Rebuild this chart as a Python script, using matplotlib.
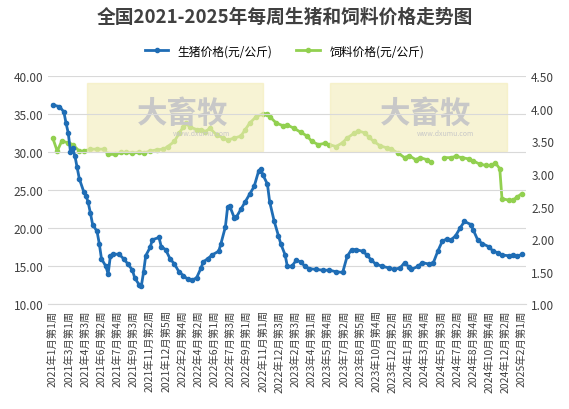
import numpy as np
import matplotlib.pyplot as plt
from matplotlib.patches import Rectangle

plt.rcParams["font.family"] = ["Noto Sans CJK SC", "DejaVu Sans"]

TICK_LABELS = [
    "2021年1月第1周", "2021年3月第1周", "2021年4月第3周", "2021年6月第2周", "2021年7月第4周",
    "2021年9月第3周", "2021年11月第2周", "2021年12月第5周", "2022年2月第4周", "2022年4月第2周",
    "2022年6月第1周", "2022年7月第3周", "2022年9月第1周", "2022年11月第1周", "2022年12月第3周",
    "2023年2月第3周", "2023年4月第1周", "2023年5月第4周", "2023年7月第2周", "2023年8月第5周",
    "2023年10月第4周", "2023年12月第2周", "2024年1月第5周", "2024年3月第4周", "2024年5月第3周",
    "2024年7月第2周", "2024年8月第4周", "2024年10月第4周", "2024年12月第2周", "2025年2月第1周",
]
N_WEEKS = 212

pig_week = [0, 3, 5, 6, 7, 8, 9, 10, 11, 12, 14, 15, 16, 17, 18, 20, 21, 22, 24, 25, 26, 27, 30, 32, 34,
            36, 37, 39, 40, 41, 42, 44, 45, 48, 49, 51, 53, 55, 57, 59, 61, 63, 65, 67, 68, 70, 72, 75,
            76, 78, 79, 80, 82, 83, 85, 87, 89, 91, 93, 94, 95, 97, 98, 100, 102, 103, 105, 106, 108, 110,
            112, 114, 116, 119, 122, 125, 128, 131, 133, 135, 137, 140, 142, 144, 146, 149, 152, 154, 157,
            159, 161, 162, 165, 167, 170, 172, 174, 176, 178, 180, 182, 184, 186, 189, 190, 192, 194, 197,
            199, 201, 203, 206, 208, 210, 212]
pig_price = [36.2, 36.0, 35.3, 33.8, 32.5, 30.0, 30.5, 29.5, 28.0, 26.5, 24.8, 24.3, 23.4, 22.0, 20.5,
             19.6, 18.0, 16.0, 15.0, 14.0, 16.3, 16.6, 16.6, 16.0, 15.3, 14.5, 13.5, 12.6, 12.4, 14.2,
             16.4, 17.5, 18.5, 18.8, 17.6, 17.2, 16.0, 15.3, 14.3, 13.8, 13.3, 13.2, 13.5, 14.8, 15.6,
             16.0, 16.5, 17.0, 18.0, 20.2, 22.8, 22.9, 21.4, 21.5, 22.5, 23.5, 24.5, 25.5, 27.5, 27.8,
             27.0, 25.8, 23.5, 21.0, 19.0, 18.0, 16.5, 15.0, 15.0, 15.8, 15.6, 15.0, 14.7, 14.6, 14.5,
             14.5, 14.3, 14.2, 16.3, 17.2, 17.2, 17.0, 16.5, 15.8, 15.3, 15.0, 14.8, 14.6, 14.8, 15.5,
             14.9, 14.6, 15.0, 15.5, 15.3, 15.5, 17.0, 18.3, 18.6, 18.5, 19.0, 20.0, 20.9, 20.5, 19.8,
             18.5, 18.0, 17.6, 17.0, 16.8, 16.5, 16.4, 16.5, 16.3, 16.6]

feed_week = [0, 2, 4, 7, 9, 12, 14, 17, 20, 23, 25, 28, 31, 33, 36, 39, 41, 44, 47, 50, 52, 55, 57, 59,
             60, 62, 65, 67, 69, 71, 74, 77, 79, 82, 85, 87, 89, 92, 95, 97, 98, 101, 104, 106, 109, 112,
             115, 117, 120, 123, 125, 128, 131, 133, 136, 138, 141, 143, 145, 148, 151, 153, 156, 159,
             161, 164, 166, 169, 171, 172, 177, 180, 182, 185, 188, 190, 193, 196, 198, 200, 202, 203,
             206, 208, 210, 212]
feed_price = [3.55, 3.35, 3.5, 3.48, 3.45, 3.35, 3.35, 3.38, 3.38, 3.38, 3.3, 3.3, 3.33, 3.33, 3.32,
              3.33, 3.32, 3.35, 3.37, 3.38, 3.42, 3.5, 3.62, 3.72, 3.78, 3.72, 3.68, 3.68, 3.65, 3.7,
              3.6, 3.55, 3.52, 3.55, 3.58, 3.68, 3.78, 3.88, 3.92, 3.92, 3.88, 3.78, 3.74, 3.75, 3.7,
              3.64, 3.58, 3.5, 3.45, 3.47, 3.45, 3.42, 3.48, 3.55, 3.62, 3.66, 3.63, 3.56, 3.5, 3.43,
              3.4, 3.38, 3.32, 3.25, 3.28, 3.22, 3.25, 3.22, 3.18, np.nan, 3.25, 3.25, 3.27, 3.25, 3.23,
              3.2, 3.15, 3.13, 3.13, 3.17, 3.08, 2.62, 2.6, 2.6, 2.65, 2.7]

BLUE = "#1f6db5"
GREEN = "#92d050"

fig, ax = plt.subplots(figsize=(5.69, 4.10), dpi=100)
fig.subplots_adjust(left=0.085, right=0.925, top=0.812, bottom=0.255)
ax2 = ax.twinx()

# watermark boxes
for x0 in (0.08, 0.59):
    ax.add_patch(Rectangle((x0, 0.67), 0.37, 0.3, transform=ax.transAxes,
                           color="#f3ecb8", alpha=0.6, zorder=0))
    ax.text(x0 + 0.2, 0.84, "大畜牧", transform=ax.transAxes, fontsize=22, color="#c8c8c8",
            ha="center", va="center", fontweight="bold", zorder=0)
    ax.text(x0 + 0.24, 0.74, "www.dxumu.com", transform=ax.transAxes, fontsize=5,
            color="#c8c8c8", ha="center", zorder=0)

ax.plot(pig_week, pig_price, color=BLUE, lw=2, marker="o", ms=3, label="生猪价格(元/公斤)", zorder=3)
ax2.plot(feed_week, feed_price, color=GREEN, lw=2, marker="o", ms=3, label="饲料价格(元/公斤)")

ax.set_ylim(10, 40)
ax.set_yticks(np.arange(10, 41, 5))
ax.set_yticklabels([f"{v:.2f}" for v in np.arange(10, 41, 5)])
ax2.set_ylim(1, 4.5)
ax2.set_yticks(np.arange(1, 4.51, 0.5))
ax2.set_yticklabels([f"{v:.2f}" for v in np.arange(1, 4.51, 0.5)])
ax.set_xlim(-2, N_WEEKS + 2)
ax.set_xticks(np.linspace(0, N_WEEKS, len(TICK_LABELS)))
ax.set_xticklabels(TICK_LABELS, rotation=90, fontsize=7.5, color="#404040")
ax.tick_params(axis="y", labelsize=8.5, colors="#404040", length=0)
ax2.tick_params(axis="y", labelsize=8.5, colors="#404040", length=0)
ax.tick_params(axis="x", length=0)
ax.grid(axis="y", color="#d9d9d9", lw=0.8)
ax.set_axisbelow(True)
for a in (ax, ax2):
    for s in a.spines.values():
        s.set_visible(False)
ax.spines["bottom"].set_visible(True)
ax.spines["bottom"].set_color("#d9d9d9")
ax.set_zorder(ax2.get_zorder() + 1)
ax.patch.set_visible(False)

fig.suptitle("全国2021-2025年每周生猪和饲料价格走势图", fontsize=13.5, fontweight="bold",
             color="#404040", y=0.98)
h1, l1 = ax.get_legend_handles_labels()
h2, l2 = ax2.get_legend_handles_labels()
fig.legend(h1 + h2, l1 + l2, loc="upper center", bbox_to_anchor=(0.5, 0.915), ncol=2,
           frameon=False, fontsize=8.5)

fig.savefig("out.png")
